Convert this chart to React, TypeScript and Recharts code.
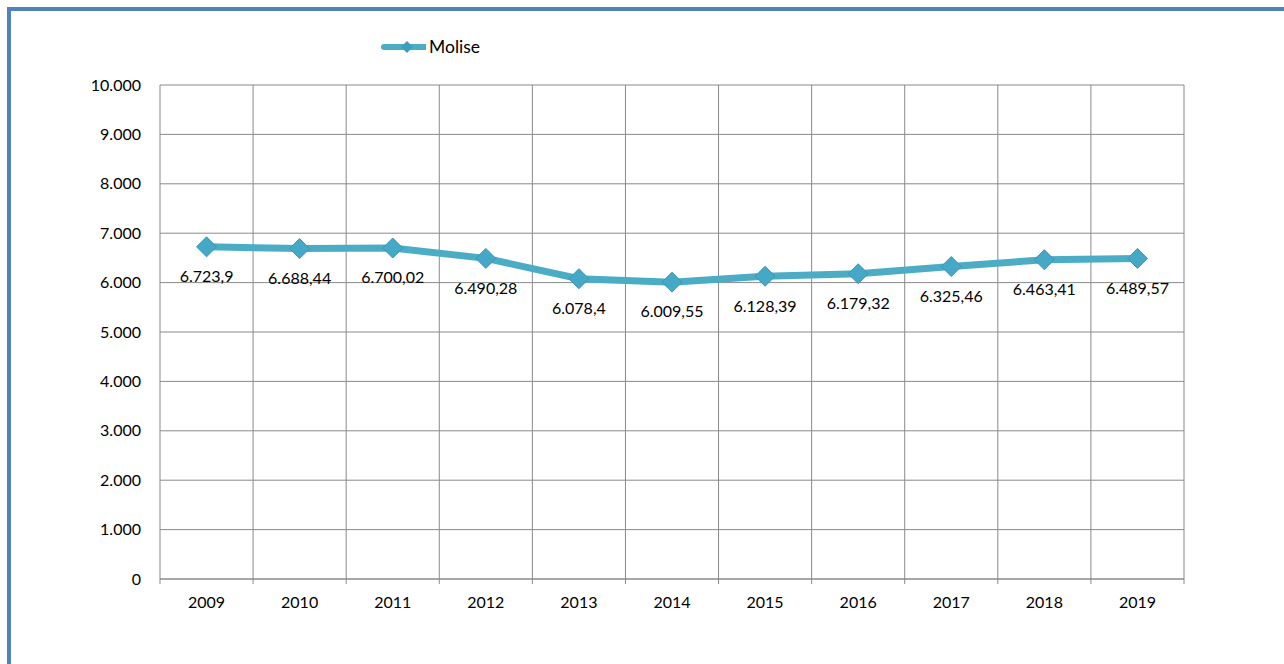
import { LineChart, Line, XAxis, YAxis, CartesianGrid, Legend, LabelList } from 'recharts';

const years = ['2009', '2010', '2011', '2012', '2013', '2014', '2015', '2016', '2017', '2018', '2019'];
const molise = [6723.9, 6688.44, 6700.02, 6490.28, 6078.4, 6009.55, 6128.39, 6179.32, 6325.46, 6463.41, 6489.57];
const yTicks = [0, 1000, 2000, 3000, 4000, 5000, 6000, 7000, 8000, 9000, 10000];

const data = years.map((year, i) => ({ year, Molise: molise[i] }));

const W = 1284;
const H = 664;
const MARGIN = { top: 66, right: 100, bottom: 55, left: 100 };
const Y_W = 60;
const PLOT_W = W - MARGIN.left - MARGIN.right - Y_W;
const HALF_BAND = PLOT_W / years.length / 2;

const FONT = 'Lato, "Open Sans", sans-serif';
const LINE = '#4bacc6';
const GRID = '#8a8a8a';

// italian style number: dots for thousands, comma for decimals
function itNum(v: number) {
  const [int, dec] = String(v).split('.');
  const grouped = int.replace(/\B(?=(\d{3})+(?!\d))/g, '.');
  return dec ? `${grouped},${dec}` : grouped;
}

function Diamond(props: any) {
  const { cx, cy } = props;
  if (cx == null || cy == null) return null;
  const r = 10;
  return (
    <polygon
      points={`${cx},${cy - r} ${cx + r},${cy} ${cx},${cy + r} ${cx - r},${cy}`}
      fill="#45a8c6"
      stroke="#3b97b3"
      strokeWidth={1}
    />
  );
}

// year label plus the tick marks on the band edges (category axis, excel style)
function YearTick(props: any) {
  const { x, y, payload, index } = props;
  const last = index === years.length - 1;
  return (
    <g>
      <line x1={x - HALF_BAND} y1={y} x2={x - HALF_BAND} y2={y + 5} stroke={GRID} />
      {last && <line x1={x + HALF_BAND} y1={y} x2={x + HALF_BAND} y2={y + 5} stroke={GRID} />}
      <text x={x} y={y + 18} dy="0.71em" textAnchor="middle" fill="#000" fontSize={16} fontFamily={FONT}>
        {payload.value}
      </text>
    </g>
  );
}

function LegendBox() {
  return (
    <div style={{ display: 'flex', alignItems: 'center', fontFamily: FONT, fontSize: 17.5, color: '#000', height: 19 }}>
      <svg width={48} height={14}>
        <line x1={6} y1={7} x2={48} y2={7} stroke={LINE} strokeWidth={6} strokeLinecap="round" />
        <polygon points="29,1 35,7 29,13 23,7" fill="#3b9fbf" />
      </svg>
      <span style={{ marginLeft: 3 }}>Molise</span>
    </div>
  );
}

export default function App() {
  return (
    <div style={{ position: 'absolute', left: 0, top: 0, width: W, height: H, overflow: 'hidden', background: '#fff' }}>
      <div
        style={{
          position: 'absolute',
          left: 7,
          top: 7,
          width: 1400,
          height: 800,
          borderTop: '4px solid #4f81bd',
          borderLeft: '4px solid #4f81bd',
        }}
      />
      <div style={{ position: 'absolute', left: 0, top: 0 }}>
        <LineChart width={W} height={H} data={data} margin={MARGIN}>
          <CartesianGrid
            stroke={GRID}
            strokeWidth={1}
            verticalCoordinatesGenerator={({ offset }: any) =>
              years.concat(['']).map((_, i) => offset.left + (i * offset.width) / years.length)
            }
          />
          <XAxis
            dataKey="year"
            scale="point"
            padding={{ left: HALF_BAND, right: HALF_BAND }}
            height={30}
            interval={0}
            tickSize={0}
            tickMargin={0}
            axisLine={{ stroke: GRID }}
            tickLine={false}
            tick={<YearTick />}
          />
          <YAxis
            domain={[0, 10000]}
            ticks={yTicks}
            width={Y_W}
            axisLine={false}
            tickLine={false}
            tickSize={0}
            tickMargin={19}
            tickFormatter={itNum}
            tick={{ fill: '#000', fontSize: 16, fontFamily: FONT }}
          />
          <Legend
            verticalAlign="top"
            wrapperStyle={{ position: 'absolute', top: 37, left: 378, width: 'auto' }}
            content={() => <LegendBox />}
          />
          <Line
            dataKey="Molise"
            stroke={LINE}
            strokeWidth={7}
            dot={<Diamond />}
            activeDot={false}
            isAnimationActive={false}
          >
            <LabelList
              dataKey="Molise"
              position="bottom"
              offset={24}
              formatter={(v: any) => itNum(Number(v))}
              style={{ fill: '#000', fontSize: 16, fontFamily: FONT }}
            />
          </Line>
        </LineChart>
      </div>
    </div>
  );
}
